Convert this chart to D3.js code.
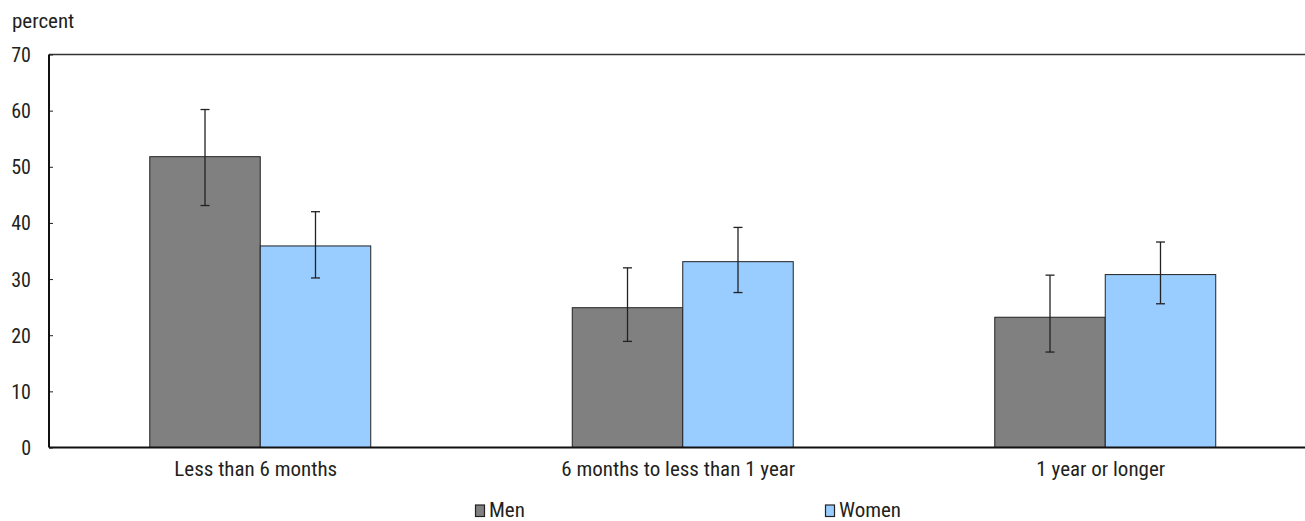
<!DOCTYPE html>
<html><head><meta charset="utf-8">
<script src="https://cdn.jsdelivr.net/npm/d3@7"></script>
<style>
html,body{margin:0;padding:0;background:#fff;overflow:hidden;}
svg{display:block;}
text{font-family:"Roboto Condensed","Liberation Sans Narrow","DejaVu Sans Condensed",sans-serif;fill:#231f20;}
</style></head><body>
<svg id="c" width="1305" height="521"></svg>
<script>
const categories = ["Less than 6 months","6 months to less than 1 year","1 year or longer"];
const seriesNames = ["Men","Women"];
const menValues = [51.8, 24.9, 23.2];
const menLow = [43.1, 18.9, 17.0];
const menHigh = [60.2, 32.0, 30.7];
const womenValues = [35.9, 33.1, 30.8];
const womenLow = [30.2, 27.6, 25.6];
const womenHigh = [42.0, 39.2, 36.6];
const yTicks = [0,10,20,30,40,50,60,70];
const colors = {Men:"#808080", Women:"#99ccff"};

const data = categories.map((c,i)=>({cat:c, bars:[
  {s:"Men", v:menValues[i], lo:menLow[i], hi:menHigh[i]},
  {s:"Women", v:womenValues[i], lo:womenLow[i], hi:womenHigh[i]}]}));

const svg = d3.select("#c");
const mLeft=49, mTop=54.5, mBottom=447.5, mRight=1316.5;
const y = d3.scaleLinear().domain([0,70]).range([mBottom, mTop]);
const x0 = d3.scaleBand().domain(categories).range([mLeft,mRight]).padding(0);
const x1 = d3.scaleBand().domain(seriesNames).range([0,x0.bandwidth()]).paddingInner(0).paddingOuter(0.912);

// top frame line
svg.append("line").attr("x1",mLeft).attr("x2",1305).attr("y1",mTop).attr("y2",mTop).attr("stroke","#333").attr("stroke-width",1.3);

const g = svg.selectAll("g.cat").data(data).join("g").attr("class","cat").attr("transform",d=>`translate(${x0(d.cat)},0)`);
g.selectAll("rect").data(d=>d.bars).join("rect")
  .attr("x",d=>x1(d.s)).attr("width",x1.bandwidth())
  .attr("y",d=>y(d.v)).attr("height",d=>y(0)-y(d.v))
  .attr("fill",d=>colors[d.s]).attr("stroke","#222").attr("stroke-width",1);
const eb = g.selectAll("g.eb").data(d=>d.bars).join("g").attr("class","eb")
  .attr("transform",d=>`translate(${x1(d.s)+x1.bandwidth()/2},0)`);
eb.append("line").attr("y1",d=>y(d.lo)).attr("y2",d=>y(d.hi)).attr("stroke","#222").attr("stroke-width",1.3);
eb.append("line").attr("x1",-4.5).attr("x2",4.5).attr("y1",d=>y(d.hi)).attr("y2",d=>y(d.hi)).attr("stroke","#222").attr("stroke-width",1.3);
eb.append("line").attr("x1",-4.5).attr("x2",4.5).attr("y1",d=>y(d.lo)).attr("y2",d=>y(d.lo)).attr("stroke","#222").attr("stroke-width",1.3);

// y axis
const ya = svg.append("g").attr("transform",`translate(${mLeft},0)`)
  .call(d3.axisRight(y).tickValues(yTicks).tickSize(4).tickFormat(d3.format("d")));
ya.attr("font-family",null);
ya.select(".domain").remove();
ya.selectAll(".tick line").attr("stroke","#222");
ya.selectAll(".tick text").attr("x",-18).attr("text-anchor","end").attr("font-size",20).attr("dy","0.35em");
svg.append("line").attr("x1",mLeft).attr("x2",mLeft).attr("y1",mTop).attr("y2",mBottom).attr("stroke","#111").attr("stroke-width",2);

// x axis
const xa = svg.append("g").attr("transform",`translate(0,${mBottom})`)
  .call(d3.axisBottom(x0).tickSize(0));
xa.attr("font-family",null);
xa.select(".domain").remove();
xa.selectAll(".tick text").attr("font-size",21).attr("y",28.5).attr("dy",0).attr("x",-4.5);
svg.append("line").attr("x1",mLeft).attr("x2",1305).attr("y1",mBottom).attr("y2",mBottom).attr("stroke","#111").attr("stroke-width",2);

svg.append("text").attr("x",12).attr("y",27.5).attr("font-size",21).text("percent");

// legend
const legendX = [475, 825];
const lg = svg.selectAll("g.lg").data(seriesNames).join("g").attr("class","lg")
  .attr("transform",(d,i)=>`translate(${legendX[i]},505)`);
lg.append("rect").attr("x",0.5).attr("width",9).attr("height",11.5).attr("y",0).attr("fill",d=>colors[d]).attr("stroke","#222").attr("stroke-width",1.2);
lg.append("text").attr("x",14).attr("y",11.5).attr("font-size",21).text(d=>d);
</script></body></html>
